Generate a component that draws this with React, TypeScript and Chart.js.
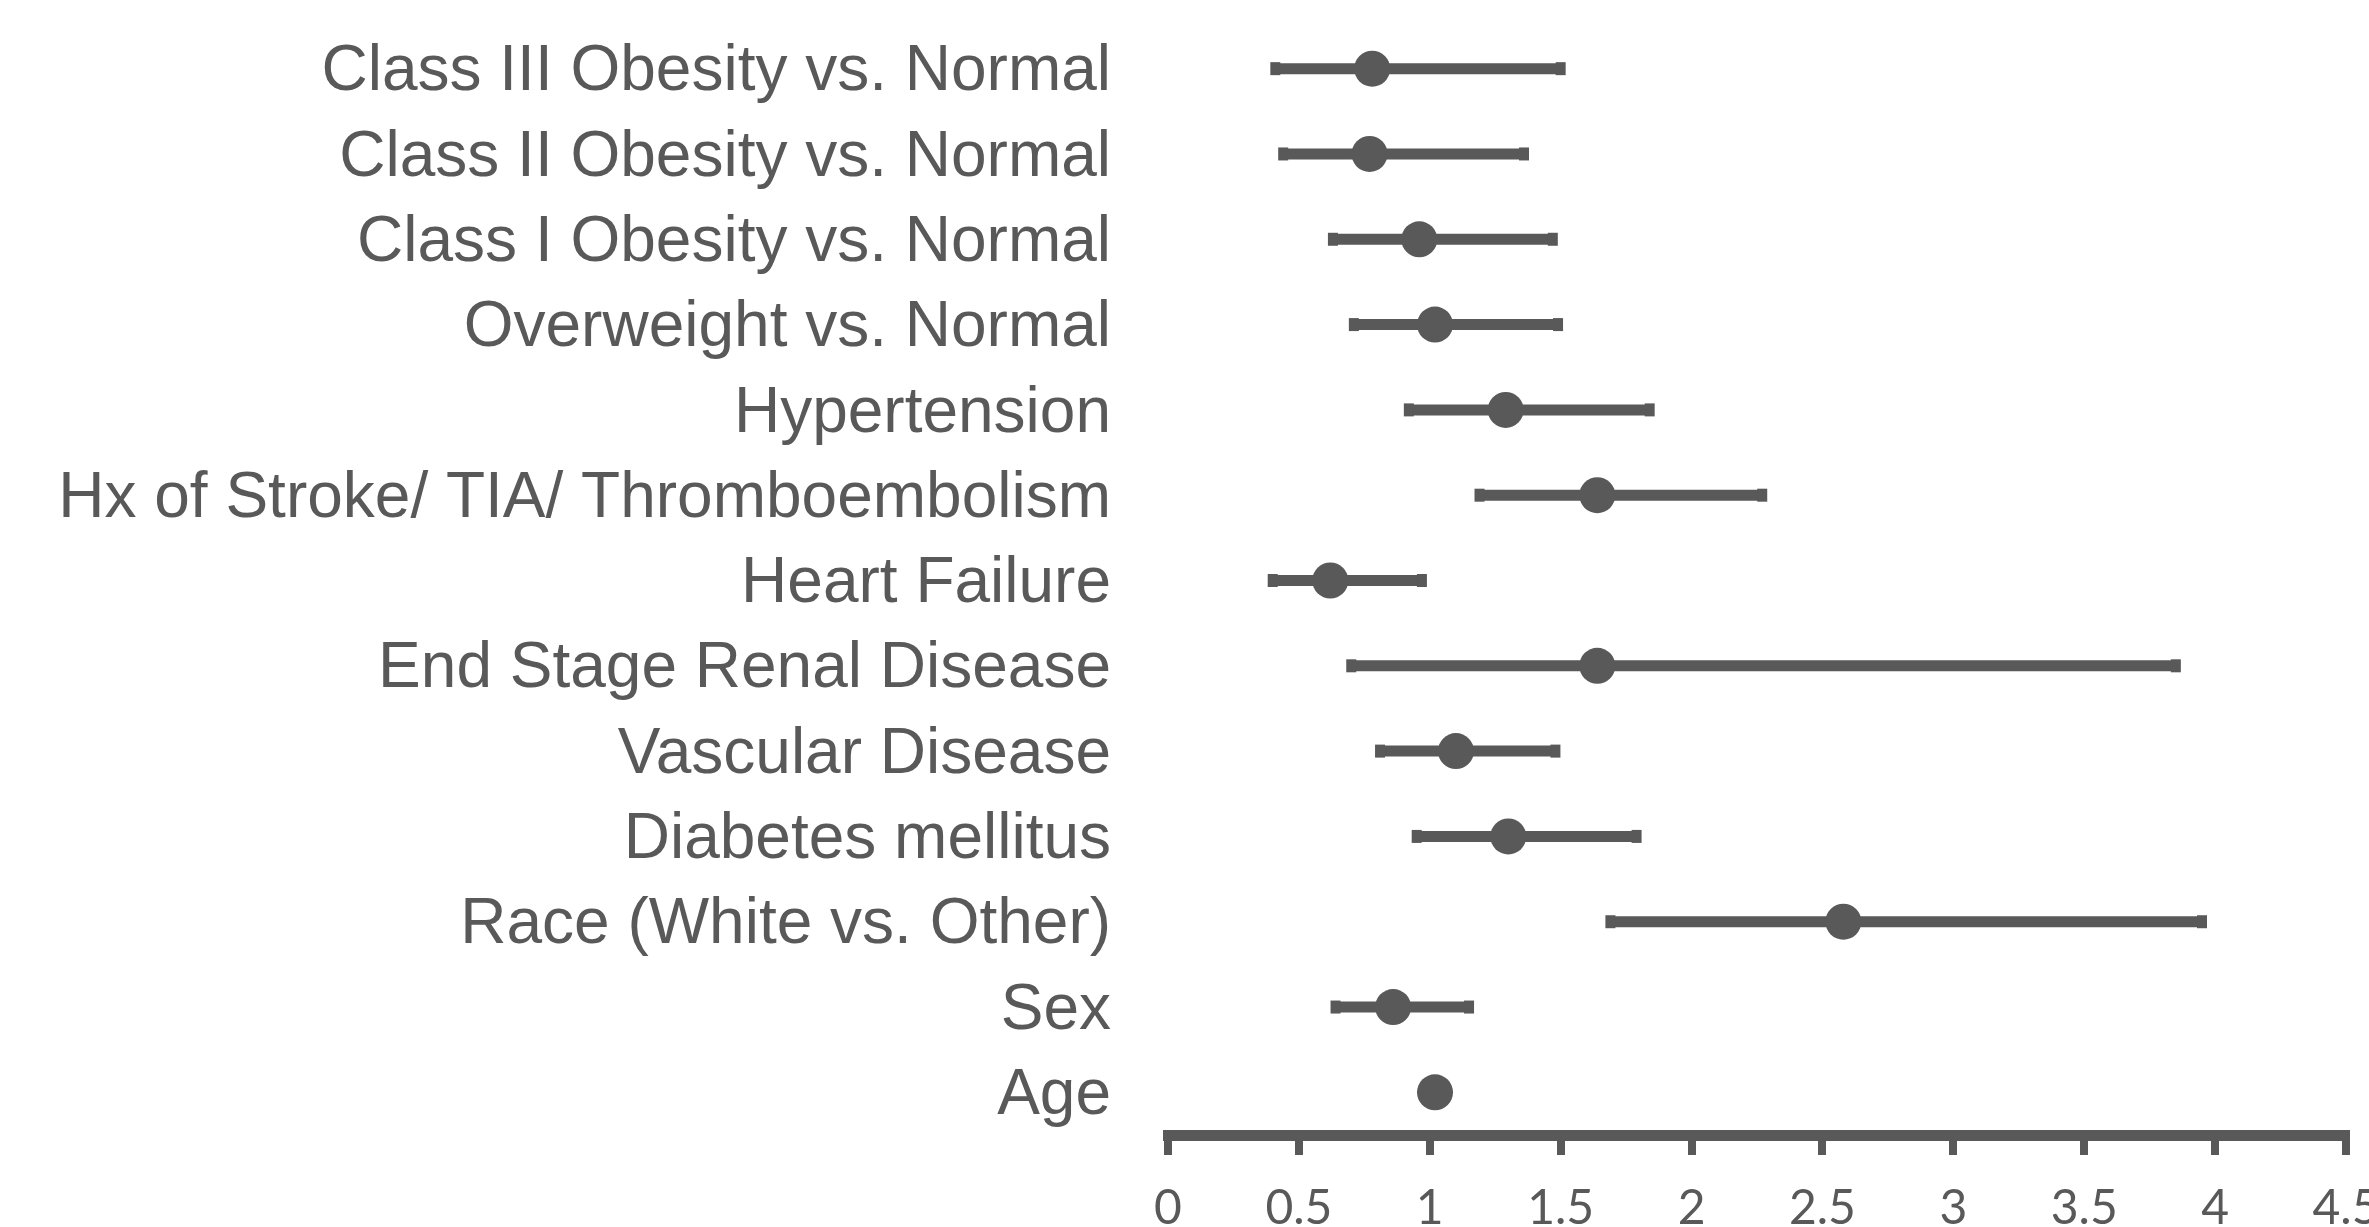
import React, { useEffect, useRef } from 'react';
import { Chart, registerables } from 'chart.js';

Chart.register(...registerables);

const categories = [
  'Class III Obesity vs. Normal',
  'Class II Obesity vs. Normal',
  'Class I Obesity vs. Normal',
  'Overweight vs. Normal',
  'Hypertension',
  'Hx of Stroke/ TIA/ Thromboembolism',
  'Heart Failure',
  'End Stage Renal Disease',
  'Vascular Disease',
  'Diabetes mellitus',
  'Race (White vs. Other)',
  'Sex',
  'Age',
];

const oddsRatios = [0.78, 0.77, 0.96, 1.02, 1.29, 1.64, 0.62, 1.64, 1.1, 1.3, 2.58, 0.86, 1.02];
const lowerCI: (number | null)[] = [0.41, 0.44, 0.63, 0.71, 0.92, 1.19, 0.4, 0.7, 0.81, 0.95, 1.69, 0.64, null];
const upperCI: (number | null)[] = [1.5, 1.36, 1.47, 1.49, 1.84, 2.27, 0.97, 3.85, 1.48, 1.79, 3.95, 1.15, null];

const xTickValues = [0, 0.5, 1, 1.5, 2, 2.5, 3, 3.5, 4, 4.5];

const GRAY = '#595959';
const W = 2369;
const H = 1227;

export default function App() {
  const canvasRef = useRef<HTMLCanvasElement | null>(null);

  useEffect(() => {
    document.body.style.margin = '0';
    document.body.style.overflow = 'hidden';
    const canvas = canvasRef.current;
    if (!canvas) return;

    const errorBarDatasets = categories
      .map((_, i) => {
        const lo = lowerCI[i];
        const hi = upperCI[i];
        if (lo == null || hi == null) return null;
        return {
          type: 'line' as const,
          data: [
            { x: lo, y: i },
            { x: hi, y: i },
          ],
          showLine: true,
          borderColor: GRAY,
          borderWidth: 11,
          borderCapStyle: 'butt' as const,
          pointStyle: 'line' as const,
          pointRotation: 90,
          pointRadius: 6.5,
          pointHoverRadius: 6.5,
          pointBorderWidth: 10,
          pointBorderColor: GRAY,
          pointBackgroundColor: GRAY,
          fill: false,
        };
      })
      .filter((d) => d !== null);

    const pointDataset = {
      type: 'scatter' as const,
      data: oddsRatios.map((v, i) => ({ x: v, y: i })),
      pointRadius: 18,
      pointHoverRadius: 18,
      pointBackgroundColor: GRAY,
      pointBorderWidth: 0,
      borderWidth: 0,
      showLine: false,
    };

    const chart = new Chart(canvas, {
      type: 'scatter',
      data: {
        datasets: [pointDataset as any, ...(errorBarDatasets as any[])],
      },
      options: {
        responsive: false,
        animation: false,
        devicePixelRatio: 1,
        layout: { padding: { top: 26, left: 0, right: 23, bottom: 0 } },
        plugins: {
          legend: { display: false },
          tooltip: { enabled: false },
        },
        scales: {
          x: {
            type: 'linear',
            position: 'bottom',
            min: 0,
            max: 4.5,
            afterBuildTicks: (scale: any) => {
              scale.ticks = xTickValues.map((v) => ({ value: v }));
            },
            afterFit: (scale: any) => {
              scale.height = 92;
              scale.paddingLeft = 0;
              scale.paddingRight = 0;
            },
            border: { display: true, color: GRAY, width: 11 },
            grid: {
              drawOnChartArea: false,
              drawTicks: true,
              tickLength: 20,
              color: GRAY,
              lineWidth: 8,
            },
            ticks: {
              color: GRAY,
              padding: 25,
              autoSkip: false,
              maxRotation: 0,
              font: { family: 'Lato', size: 48 },
              callback: (v: any) => String(v),
            },
          },
          y: {
            type: 'linear',
            position: 'left',
            min: -0.5,
            max: 12.5,
            reverse: true,
            afterBuildTicks: (scale: any) => {
              scale.ticks = categories.map((_, i) => ({ value: i }));
            },
            afterFit: (scale: any) => {
              scale.width = 1168;
              scale.paddingTop = 0;
              scale.paddingBottom = 0;
            },
            border: { display: false },
            grid: { display: false, drawTicks: false },
            ticks: {
              color: GRAY,
              padding: 57,
              labelOffset: 4,
              autoSkip: false,
              font: { family: '"Liberation Sans", Arial, sans-serif', size: 64 },
              callback: (v: any) => categories[v as number] ?? '',
            },
          },
        },
      },
    });

    return () => chart.destroy();
  }, []);

  return (
    <div style={{ width: W, height: H, overflow: 'hidden', background: '#fff' }}>
      <canvas ref={canvasRef} width={W} height={H} style={{ display: 'block' }} />
    </div>
  );
}
